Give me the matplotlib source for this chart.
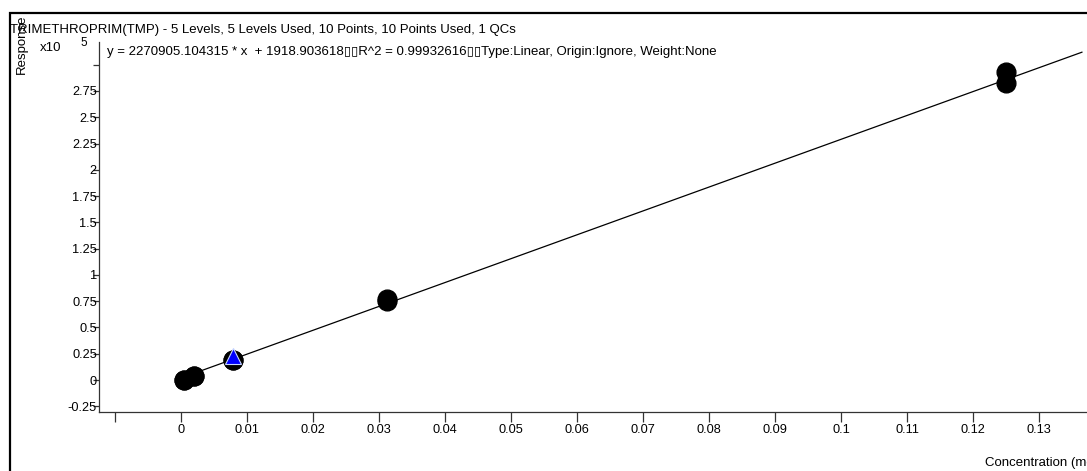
import numpy as np
import matplotlib
matplotlib.use("Agg")
from matplotlib import pyplot as plt
from matplotlib.patches import Rectangle

plt.rcParams['font.family'] = ['Liberation Sans', 'DejaVu Sans']
plt.rcParams['font.size'] = 9.5

# calibration data
conc = [0.000488, 0.000488, 0.001953, 0.001953, 0.0078125, 0.0078125,
        0.03125, 0.03125, 0.125, 0.125]
resp = [300, 300, 4000, 4000, 19000, 19000, 75000, 77000, 283000, 293000]
qc_conc = [0.0078125]
qc_resp = [22500]

slope = 2270905.104315
intercept = 1918.903618
r2 = 0.99932616
scale = 1e5

title = "TRIMETHROPRIM(TMP) - 5 Levels, 5 Levels Used, 10 Points, 10 Points Used, 1 QCs"
eq = ("y = %.6f * x  + %.6f\u25af\u25afR^2 = %.8f\u25af\u25afType:Linear, Origin:Ignore, Weight:None"
      % (slope, intercept, r2))

xticks = [-0.01, 0, 0.01, 0.02, 0.03, 0.04, 0.05, 0.06, 0.07, 0.08, 0.09,
          0.1, 0.11, 0.12, 0.13]
yticks = [-0.25, 0, 0.25, 0.5, 0.75, 1, 1.25, 1.5, 1.75, 2, 2.25, 2.5, 2.75, 3]

W, H = 1087, 471
fig = plt.figure(figsize=(W / 100, H / 100), dpi=100)
ax = fig.add_axes([99 / W, 59 / H, 1 - 99 / W, 370 / H])

# fitted line
lx = np.array([0, 0.1365])
ax.plot(lx, (slope * lx + intercept) / scale, color='black', lw=0.9, zorder=2)

ax.plot(conc, np.array(resp) / scale, 'o', color='black', ms=13.5, zorder=3)
ax.plot(qc_conc, np.array(qc_resp) / scale, '^', color='#0000ff',
        mec='#c8d8ff', mew=0.8, ms=12, zorder=4)

ax.set_xlim(-0.01242, 0.13727)
ax.set_ylim(-0.304, 3.216)

ax.set_xticks(xticks)
ax.set_xticklabels(['' if t < 0 else '%g' % t for t in xticks])
ax.set_yticks(yticks)
ax.set_yticklabels(['%g' % t if t < 3 else '' for t in yticks])

ax.tick_params(axis='x', direction='out', length=7, width=0.9, pad=1.5,
               colors='#333333', labelcolor='black', labelsize=9.2)
ax.tick_params(axis='y', direction='out', length=4.5, width=0.9, pad=-3,
               colors='#333333', labelcolor='black', labelsize=9.2)

for s in ['top', 'right']:
    ax.spines[s].set_visible(False)
for s in ['left', 'bottom']:
    ax.spines[s].set_color('#333333')
    ax.spines[s].set_linewidth(0.9)

# outer frame (runs off the figure to the right and bottom)
fig.patches.append(Rectangle((9.5 / W, -0.2), 1.2, 1.2 - 12.5 / H,
                             transform=fig.transFigure, fill=False,
                             edgecolor='black', lw=1.6))

fig.text(10 / W, 1 - 30 / H, title, ha='left', va='center')
fig.text(107 / W, 1 - 52 / H, eq, ha='left', va='center')
fig.text(40 / W, 1 - 48 / H, 'x10', ha='left', va='center')
fig.text(80 / W, 1 - 43 / H, '5', ha='left', va='center', fontsize=8.5)
fig.text(22 / W, 1 - 44 / H, 'Response', rotation=90, ha='center', va='center')
fig.text(985 / W, 1 - 463 / H, 'Concentration (mg/L)', ha='left', va='center')

fig.savefig('out.png', dpi=100)
